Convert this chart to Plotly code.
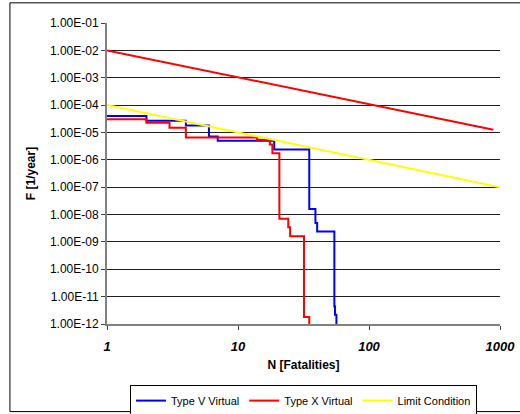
import plotly.graph_objects as go

# Type V Virtual (step curve, value holds from N onward)
type_v_n = [1, 2, 4, 6, 7, 18.9, 35, 39, 40.2, 54.4, 55, 56.4]
type_v_f = [4.0e-5, 2.65e-5, 1.79e-5, 7.1e-6, 5.0e-6, 2.4e-6, 1.6e-8, 4.9e-9, 2.4e-9, 4.4e-12, 2.2e-12, 1e-12]

# Type X Virtual
type_x_n = [1, 2, 3, 4, 14, 17.5, 18.3, 20.7, 24.2, 25, 31.9, 35]
type_x_f = [3.05e-5, 2.24e-5, 1.5e-5, 6.5e-6, 5.4e-6, 3.6e-6, 1.75e-6, 7e-9, 3.4e-9, 1.6e-9, 1.8e-12, 1e-12]

# Limit Condition
limit_n = [1, 1000]
limit_f = [1e-4, 1e-7]

# Upper limit line (no legend entry)
upper_n = [1, 890]
upper_f = [1e-2, 1.25e-5]

y_tickvals = [1e-12, 1e-11, 1e-10, 1e-9, 1e-8, 1e-7, 1e-6, 1e-5, 1e-4, 1e-3, 1e-2, 1e-1]
y_ticktext = ["1.00E-12", "1.00E-11", "1.00E-10", "1.00E-09", "1.00E-08", "1.00E-07",
              "1.00E-06", "1.00E-05", "1.00E-04", "1.00E-03", "1.00E-02", "1.00E-01"]
x_tickvals = [1, 10, 100, 1000]
x_ticktext = ["1", "10", "100", "1000"]

FONT = "Liberation Sans, Arial, sans-serif"

fig = go.Figure()
fig.add_trace(go.Scatter(x=type_v_n, y=type_v_f, mode="lines", name="Type V Virtual",
                         line=dict(color="#0000FF", width=2, shape="hv")))
fig.add_trace(go.Scatter(x=type_x_n, y=type_x_f, mode="lines", name="Type X Virtual",
                         line=dict(color="#FF0000", width=2, shape="hv")))
fig.add_trace(go.Scatter(x=limit_n, y=limit_f, mode="lines", name="Limit Condition",
                         line=dict(color="#FFFF00", width=2)))
fig.add_trace(go.Scatter(x=upper_n, y=upper_f, mode="lines", name="Upper",
                         line=dict(color="#FF0000", width=2), showlegend=False))

fig.update_layout(
    width=520, height=414,
    margin=dict(l=107, r=20, t=23, b=90, autoexpand=False),
    paper_bgcolor="white", plot_bgcolor="white",
    font=dict(family=FONT, color="black", size=11),
    showlegend=True,
    legend=dict(orientation="h", x=0.5, xanchor="center", y=-0.203, yanchor="top",
                bordercolor="black", borderwidth=1, font=dict(size=11, family=FONT),
                itemwidth=30, tracegroupgap=0),
    xaxis=dict(type="log", range=[0, 3], tickvals=x_tickvals, ticktext=x_ticktext,
               tickfont=dict(size=13, family=FONT, weight="bold", style="italic"),
               showgrid=False, zeroline=False, showline=True, linecolor="#808080", linewidth=2,
               ticks="outside", ticklen=4, tickcolor="#404040", ticklabelstandoff=5,
               automargin=False, ticklabeloverflow="allow",
               title=dict(text="N [Fatalities]", font=dict(size=12, family=FONT, weight="bold"),
                          standoff=8)),
    yaxis=dict(type="log", range=[-12, -1], tickvals=y_tickvals, ticktext=y_ticktext,
               tickfont=dict(size=12, family=FONT),
               showgrid=True, gridcolor="#202020", gridwidth=1, zeroline=False,
               showline=True, linecolor="#808080", linewidth=2,
               ticks="outside", ticklen=4, tickcolor="#404040",
               automargin=False,
               title=dict(text="F [1/year]", font=dict(size=12, family=FONT, weight="bold"),
                          standoff=12)),
    shapes=[dict(type="rect", xref="paper", yref="paper", x0=-0.247, x1=1.1, y0=-0.291, y1=1.067,
                 line=dict(color="black", width=1), fillcolor="rgba(0,0,0,0)", layer="below")],
)

# remove the browser's default 8px page margin so the 520x414 figure fills the window
fig.write_html("out.html",
               config={"displayModeBar": False},
               post_script="document.body.style.margin='0px';document.body.style.overflow='hidden';")
